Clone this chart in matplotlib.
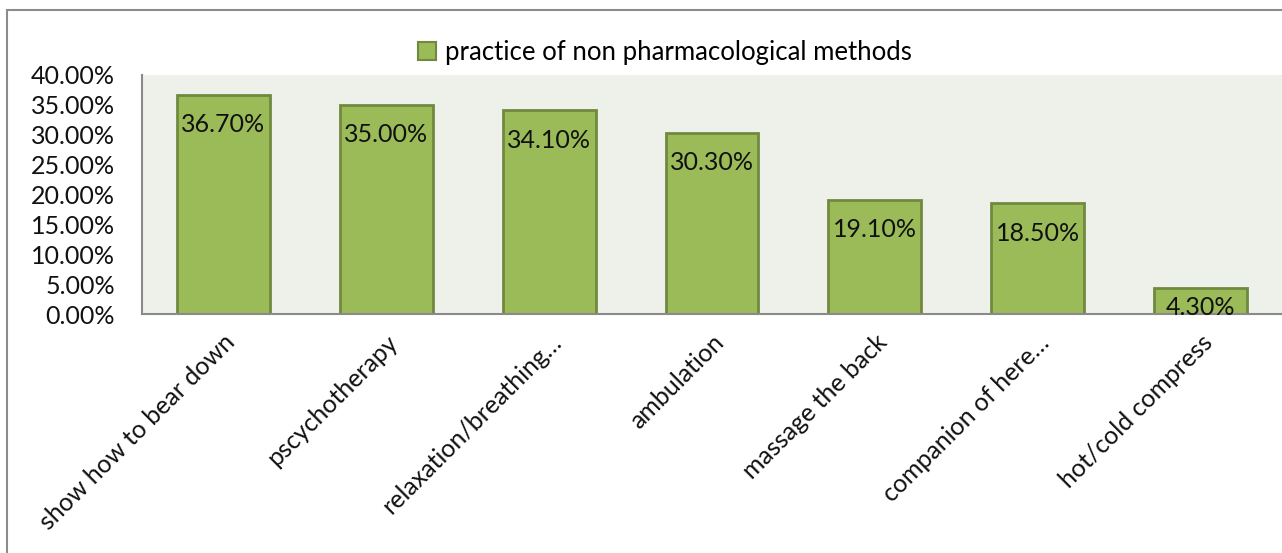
import matplotlib.pyplot as plt
from matplotlib.patches import Rectangle, Patch
from matplotlib.ticker import FuncFormatter

categories = ['show how to bear down', 'pscychotherapy', 'relaxation/breathing…',
              'ambulation', 'massage the back', 'companion of here…', 'hot/cold compress']
values = [0.367, 0.350, 0.341, 0.303, 0.191, 0.185, 0.043]
series_name = 'practice of non pharmacological methods'

plt.rcParams['font.family'] = ['Lato', 'DejaVu Sans']

fig = plt.figure(figsize=(12.82, 5.53), dpi=100)
W, H = 1282, 553
ax = fig.add_axes([142 / W, 1 - 314 / H, (W - 142) / W, (314 - 75) / H])

bar_fill = '#9BBB59'
bar_edge = '#71893F'
x = list(range(len(categories)))
ax.bar(x, values, width=0.57, color=bar_fill, edgecolor=bar_edge, linewidth=2, zorder=2)

for xi, v in zip(x, values):
    ax.text(xi, max(v - 0.05, 0.0105), f'{v * 100:.2f}%', ha='center', va='center',
            fontsize=18, color='#111111', zorder=3)

ax.set_xlim(-0.5, 6.5)
ax.set_ylim(0, 0.40)
ax.set_yticks([i * 0.05 for i in range(9)])
ax.yaxis.set_major_formatter(FuncFormatter(lambda v, p: f'{v * 100:.2f}%'))
ax.set_facecolor('#EEF1E9')
ax.set_xticks(x)
ax.set_xticklabels(categories, rotation=45, ha='right', va='top', rotation_mode='anchor',
                   fontsize=18)
ax.tick_params(axis='both', length=0, labelsize=18, colors='#111111')
ax.tick_params(axis='x', pad=12)
ax.tick_params(axis='y', pad=19.5)

for s in ['top', 'right']:
    ax.spines[s].set_visible(False)
for s in ['left', 'bottom']:
    ax.spines[s].set_color('#8A8A8A')
    ax.spines[s].set_linewidth(1.5)

fig.legend(handles=[Patch(facecolor=bar_fill, edgecolor=bar_edge, linewidth=1.5)],
           labels=[series_name], loc='center', bbox_to_anchor=(665 / W, 1 - 52 / H),
           frameon=False, fontsize=18.5, handlelength=0.7, handleheight=0.7,
           handletextpad=0.35)

fig.patches.append(Rectangle((7 / W, -0.1), 2.0, 1 - 10 / H + 0.1, transform=fig.transFigure,
                             fill=False, edgecolor='#8C8C8C', linewidth=1.5))

fig.savefig('out.png', dpi=100)
